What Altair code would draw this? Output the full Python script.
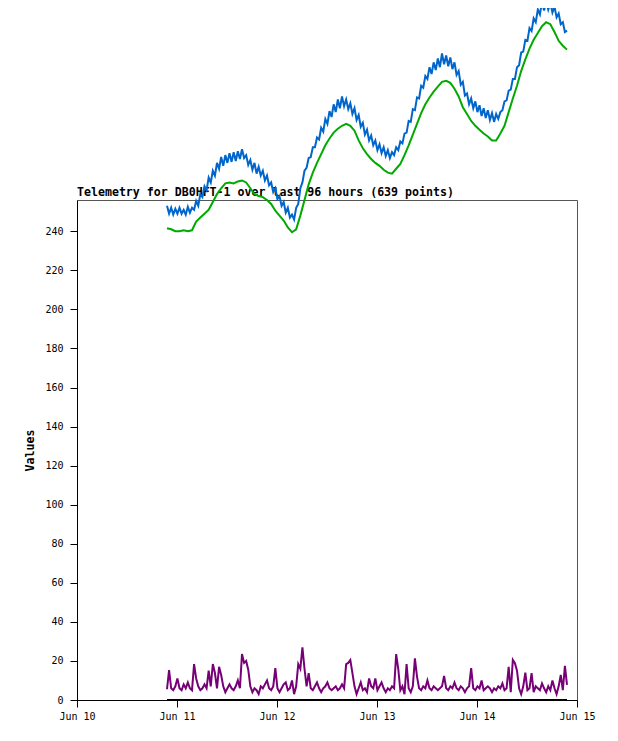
import altair as alt
import pandas as pd

# ---- data (hours since Jun 10 21:36) ----
START = "2024-06-10 21:36"
TITLE = "Telemetry for DB0HFT-1 over last 96 hours (639 points)"

# A1 (blue) sampled every half hour
A1 = [253, 249, 252, 248.5, 251.5, 249, 252, 249, 251, 248.5,
      252.5, 249.5, 252, 251, 255.5, 253, 259, 257.5, 263, 261,
      267.5, 265, 271, 268.5, 275, 272, 278, 273.5, 279, 275,
      280, 275.5, 280.5, 276, 281, 277, 282, 277.5, 279, 274,
      276.5, 271.5, 275, 269.5, 273, 268.5, 271, 266, 268.5, 263.5,
      265, 260, 262, 256.5, 258, 253, 255, 249.5, 252, 247,
      248.5, 246, 252, 254, 262, 265, 271, 272.5, 277.5, 278,
      283, 283, 288, 287, 293, 291, 297.5, 295, 301.5, 298.5,
      305, 301, 307.5, 303, 309, 304, 307.5, 302.5, 305.5, 300,
      303, 297, 299.5, 293.5, 295.5, 289.5, 292, 286.5, 289, 284,
      286.5, 281.5, 284.5, 280, 283, 278.5, 281.5, 277.5, 280.5, 279,
      283, 281.5, 286, 285, 290, 290.5, 296.5, 296, 302.5, 302,
      308.5, 308, 314.5, 313.5, 319.5, 318, 324, 320.5, 326.5, 322.5,
      328.5, 324, 331, 325.5, 330, 324.5, 329, 323, 326.5, 320,
      322, 315, 316.5, 309.5, 310.5, 305, 308, 303, 306.5, 301,
      304.5, 299, 303, 298, 302, 297, 300.5, 296, 300, 297.5,
      301, 302, 306.5, 307, 312, 312.5, 318, 318, 324, 325,
      331.5, 332, 338, 337.5, 344, 342.5, 349, 347, 353.5, 351,
      357.5, 353, 358, 353.5, 357, 352, 355, 349.5, 351.5, 346,
      347, 342, 342.7]

# A2 (green) sampled every hour
A2 = [241.5, 241, 240, 240, 240.5, 240, 240.5, 245, 247, 249,
      251, 255, 259, 262, 264.5, 265, 264.5, 265.5, 266, 265,
      262, 259, 258, 257.5, 256, 254, 250.5, 248, 245.5, 242,
      239.5, 241, 248, 256, 264, 270, 275, 279.5, 284, 287.5,
      290.5, 292.5, 294, 295, 294, 291.5, 286.5, 282.5, 279.5, 277,
      275, 273.5, 271.5, 270, 269.5, 272, 274.5, 279, 284, 289.5,
      295, 300.5, 305, 308.5, 311.5, 314, 316.5, 317, 316, 313,
      309, 303.5, 300, 296.5, 294, 292, 290, 288.5, 286.5, 286.5,
      290, 294, 301, 308, 314.5, 322, 328, 333.5, 338, 341.5,
      345, 347, 346, 342, 337.5, 335, 333]

# A3 (purple) sampled every half hour
A3 = [5.5, 15.3, 6, 5, 7, 11, 6, 5, 8, 6,
      9, 6, 5, 18.4, 11, 7, 5, 6, 8, 6,
      15, 7, 18.4, 13.8, 6, 17, 12.8, 7, 4, 6,
      8, 6, 5, 7, 10, 6, 23.5, 19, 20, 15.5,
      7, 4, 6, 5, 3, 7, 6, 8, 10, 6,
      5, 7, 16.3, 6, 4, 6, 8, 9, 5, 6,
      10, 3, 7, 18.4, 16, 27, 16, 7, 13.8, 6,
      5, 7, 9, 6, 4, 6, 7, 9, 6, 5,
      6, 7, 5, 6, 8, 6, 18.4, 19, 20.5, 13.8,
      7, 3, 6, 9, 5, 6, 4, 11, 7, 6,
      11, 5, 7, 9, 6, 4, 6, 5, 7, 6,
      23.5, 16, 5, 7, 3, 18.4, 6, 4, 7, 21.3,
      12, 6, 5, 7, 6, 10, 6, 5, 7, 6,
      5, 6, 7, 12.3, 6, 5, 7, 6, 9, 6,
      5, 7, 6, 4, 6, 7, 16.3, 6, 5, 7,
      6, 10, 5, 6, 7, 6, 4, 6, 5, 7,
      6, 8.5, 5, 6, 17, 4, 20.5, 18.8, 15, 6,
      3, 7, 14, 5, 6, 13.8, 4, 7, 6, 5,
      8.5, 6, 4, 7, 5, 10, 6, 3, 7, 12.8,
      5, 17.5, 7.7]

# A4 (black) sampled every hour
A4 = [0] * 97

SERIES = ["A3", "A2", "A1", "A4"]
COLORS = ["#770077", "#00AA00", "#0066CC", "#000000"]
STEPS = {"A1": 0.5, "A2": 1.0, "A3": 0.5, "A4": 1.0}
VALUES = {"A1": A1, "A2": A2, "A3": A3, "A4": A4}

rows = []
t0 = pd.Timestamp(START)
for name in SERIES:
    for i, v in enumerate(VALUES[name]):
        rows.append({"time": t0 + pd.Timedelta(hours=i * STEPS[name]),
                     "value": v, "series": name})
df = pd.DataFrame(rows)

MONO = "DejaVu Sans Mono"

lines = alt.Chart(df).mark_line(strokeWidth=2, clip=False).encode(
    x=alt.X("time:T",
            scale=alt.Scale(domain=[alt.DateTime(year=2024, month=6, date=10),
                                    alt.DateTime(year=2024, month=6, date=15)]),
            axis=alt.Axis(title=None, format="%b %d", grid=False,
                          tickCount={"interval": "day", "step": 1},
                          tickSize=7, labelPadding=4, domainColor="black",
                          tickColor="black", labelFont=MONO, labelFontSize=10,
                          labelColor="black", labelFlush=False)),
    y=alt.Y("value:Q",
            scale=alt.Scale(domain=[0, 256], nice=False, zero=False),
            axis=alt.Axis(title="Values", values=list(range(0, 241, 20)),
                          grid=False, tickSize=7, labelPadding=7,
                          domainColor="black", tickColor="black",
                          labelFont=MONO, labelFontSize=10, labelColor="black",
                          titleFont=MONO, titleFontSize=11.6,
                          titleFontWeight="bold", titleColor="black",
                          titlePadding=9)),
    color=alt.Color("series:N", scale=alt.Scale(domain=SERIES, range=COLORS),
                    legend=None),
    order=alt.Order("time:T"),
)

title = alt.Chart(pd.DataFrame({"t": [TITLE]})).mark_text(
    align="left", baseline="alphabetic", font=MONO, fontSize=11.6,
    fontWeight="bold", color="black", clip=False,
).encode(x=alt.value(0), y=alt.value(-4), text="t:N")

chart = alt.layer(title, lines).properties(
    width=500,
    height=500,
    autosize="none",
    padding={"left": 69, "top": 192, "right": 25, "bottom": 25},
).configure_view(stroke="#555555", strokeWidth=1)

chart.save("out.html", embed_options={"renderer": "svg", "actions": False})
